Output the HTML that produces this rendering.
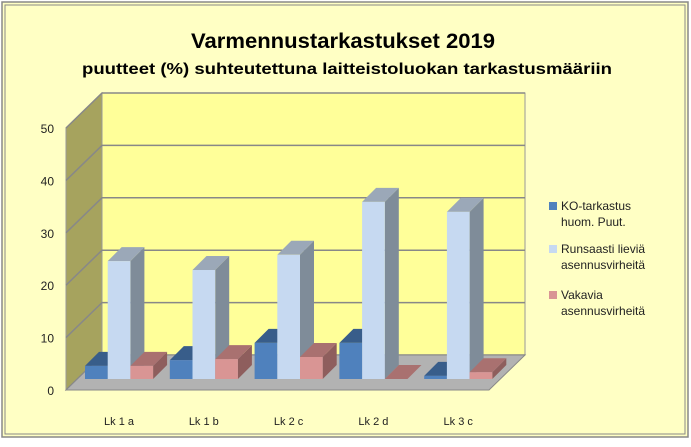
<!DOCTYPE html>
<html><head><meta charset="utf-8"><style>
html,body{margin:0;padding:0;background:#fff;width:691px;height:447px;overflow:hidden}
svg{display:block;font-family:"Liberation Sans",sans-serif}
</style></head><body>
<svg id="chart" width="691" height="447" viewBox="0 0 691 447">
<rect x="2" y="2" width="686" height="435" fill="#FFFFC4" stroke="#888" stroke-width="1.5"/>
<rect x="5" y="5" width="680" height="429" fill="none" stroke="#888" stroke-width="1"/>
<text x="343" y="48" text-anchor="middle" font-weight="bold" font-size="21" textLength="304" lengthAdjust="spacingAndGlyphs">Varmennustarkastukset 2019</text>
<text x="347" y="74" text-anchor="middle" font-weight="bold" font-size="16" textLength="530" lengthAdjust="spacingAndGlyphs">puutteet (%) suhteutettuna laitteistoluokan tarkastusmääriin</text>
<g id="plot"></g>
<g>
<rect x="549" y="202" width="8" height="8" fill="#4F81BD"/>
<text x="561" y="210" font-size="12" fill="#222">KO-tarkastus</text>
<text x="561" y="226" font-size="12" fill="#222">huom. Puut.</text>
<rect x="549" y="245" width="8" height="8" fill="#C6D9F1"/>
<text x="561" y="253" font-size="12" fill="#222">Runsaasti lieviä</text>
<text x="561" y="269" font-size="12" fill="#222">asennusvirheitä</text>
<rect x="549" y="291" width="8" height="8" fill="#D99594"/>
<text x="561" y="299" font-size="12" fill="#222">Vakavia</text>
<text x="561" y="315" font-size="12" fill="#222">asennusvirheitä</text>
</g>
</svg>
<script>
const categories = ["Lk 1 a","Lk 1 b","Lk 2 c","Lk 2 d","Lk 3 c"];
const koValues = [2.5, 3.6, 6.9, 6.9, 0.6];
const runsaastiValues = [22.5, 20.8, 23.7, 33.8, 31.9];
const vakaviaValues = [2.5, 3.8, 4.2, 0, 1.3];
const yTicks = [0,10,20,30,40,50];

const NS="http://www.w3.org/2000/svg";
const plot=document.getElementById('plot');
const pxPerUnit=5.24;
const backX0=102, backX1=525, back0=355;
const DX=-36, DY=35;
function yBack(v){return back0-v*pxPerUnit;}
function mk(tag,attrs){const e=document.createElementNS(NS,tag);for(const k in attrs)e.setAttribute(k,attrs[k]);plot.appendChild(e);return e;}
function pts(a){return a.map(p=>p.join(',')).join(' ');}

// back wall
let e=mk('polygon',{points:pts([[backX0,yBack(50)-0],[backX1,yBack(50)],[backX1,back0],[backX0,back0]]),fill:'#FFFF99',stroke:'#999'});


e.setAttribute('points',pts([[backX0,93],[backX1,93],[backX1,back0],[backX0,back0]]));
// left wall
e=mk('polygon',{points:pts([[backX0,93],[backX0,back0],[backX0+DX,back0+DY],[backX0+DX,93+DY]]),fill:'#A6A35E',stroke:'#999'});


// gridlines
yTicks.forEach(t=>{
  const y=yBack(t);
  const g=mk('polyline',{points:pts([[backX0+DX,y+DY],[backX0,y],[backX1,y]]),fill:'none',stroke:'#888','stroke-width':1.5});
  
  
  const l=mk('text',{x:54,y:y+DY+5,'text-anchor':'end','font-size':12,fill:'#222'});
  l.textContent=t;
  
  
});
// floor
e=mk('polygon',{points:pts([[backX0,back0],[backX1,back0],[backX1+DX,back0+DY],[backX0+DX,back0+DY]]),fill:'#B2B2B2',stroke:'#888'});



// bars
const series=[{v:koValues,f:'#4F81BD',t:'#385D8A',s:'#2E4F78',n:'ko'},
              {v:runsaastiValues,f:'#C6D9F1',t:'#9BA8B8',s:'#7F8C99',n:'runsaasti'},
              {v:vakaviaValues,f:'#D99594',t:'#A97170',s:'#8E5E5D',n:'vakavia'}];
const barBase=379, bw=22.7, d=14, groupX0=85, groupStep=84.8;
categories.forEach((c,i)=>{
  series.forEach((s,j)=>{
    const x=groupX0+i*groupStep+j*bw;
    const h=s.v[i]*pxPerUnit, y=barBase-h;
    const g=document.createElementNS(NS,'g');plot.appendChild(g);
    
    
    const add=(p,f)=>{const q=document.createElementNS(NS,'polygon');q.setAttribute('points',pts(p));q.setAttribute('fill',f);g.appendChild(q);};
    add([[x+bw,y],[x+bw+d,y-d],[x+bw+d,barBase-d],[x+bw,barBase]],s.s);
    add([[x,y],[x+d,y-d],[x+bw+d,y-d],[x+bw,y]],s.t);
    if(h>0.5){const r=document.createElementNS(NS,'rect');r.setAttribute('x',x);r.setAttribute('y',y);r.setAttribute('width',bw);r.setAttribute('height',h);r.setAttribute('fill',s.f);g.appendChild(r);}
  });
  const l=mk('text',{x:groupX0+i*groupStep+34,y:425,'text-anchor':'middle','font-size':11,fill:'#222'});
  l.textContent=c;
  
  
});
</script>
</body></html>
